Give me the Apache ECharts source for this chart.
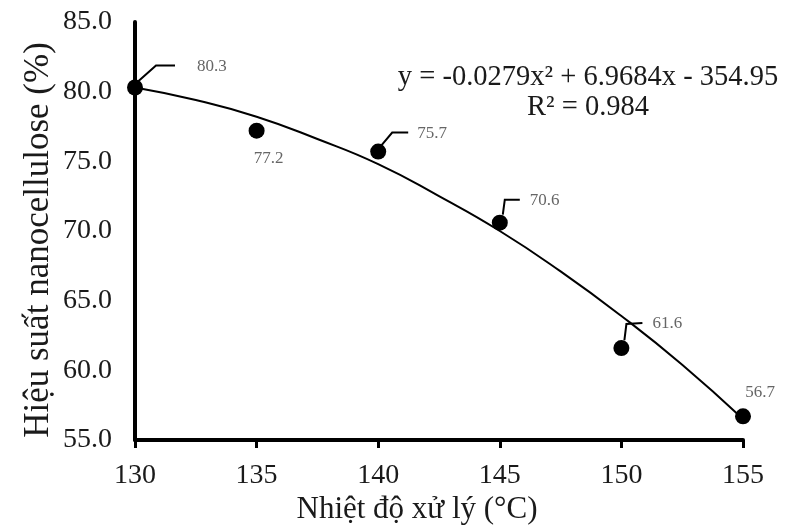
<!DOCTYPE html>
<html>
<head>
<meta charset="utf-8">
<script src="https://cdn.jsdelivr.net/npm/echarts@6/dist/echarts.min.js"></script>
<style>html,body{margin:0;padding:0;background:#fff}#c{width:791px;height:529px}</style>
</head>
<body>
<div id="c"></div>
<script>
// Data
const temperatures = [130, 135, 140, 145, 150, 155];
const yields = [80.3, 77.2, 75.7, 70.6, 61.6, 56.7];
const trendX = [130, 132.5, 135, 137.5, 140, 142.5, 145, 147.5, 150, 152.5, 155];
const trendY = [80.3, 79.4, 78.2, 76.6, 74.8, 72.5, 70.0, 67.1, 63.9, 60.4, 56.5];
const xTicks = [130, 135, 140, 145, 150, 155];
const yTicks = ['55.0', '60.0', '65.0', '70.0', '75.0', '80.0', '85.0'];
const equationText = 'y = -0.0279x² + 6.9684x - 354.95';
const r2Text = 'R² = 0.984';
const xName = 'Nhiệt độ xử lý (°C)';
const yName = 'Hiệu suất nanocellulose (%)';

// Label placement styles (pixel offsets from each point)
const leaderStyles = [
  [[3, -6], [21, -22], [40, -22]],
  null,
  [[3, -6], [14, -19], [30, -19]],
  [[3, -8], [5, -23], [20, -23]],
  [[3, -8], [5, -24], [21, -25]],
  null
];
const textStyles = [
  {pos: [62, -21], align: 'left'},
  {pos: [12, 28], align: 'center'},
  {pos: [39, -18], align: 'left'},
  {pos: [30, -22], align: 'left'},
  {pos: [31, -25], align: 'left'},
  {pos: [17, -24], align: 'center'}
];

const serif = '"Liberation Serif", "Times New Roman", serif';
const chart = echarts.init(document.getElementById('c'), null, {renderer: 'canvas'});

chart.setOption({
  backgroundColor: '#fff',
  animation: false,
  grid: {left: 135, right: 48, top: 22, bottom: 89, containLabel: false, outerBoundsMode: 'none'},
  xAxis: {
    type: 'value', min: xTicks[0], max: xTicks[xTicks.length - 1], interval: 5,
    axisLine: {show: true, lineStyle: {color: '#000', width: 4}},
    axisTick: {show: true, length: 8, lineStyle: {color: '#000', width: 3}},
    axisLabel: {fontFamily: serif, fontSize: 28, color: '#1a1a1a', margin: 22},
    splitLine: {show: false}
  },
  yAxis: {
    type: 'value', min: 55, max: 85, interval: 5,
    axisLine: {show: true, lineStyle: {color: '#000', width: 4}},
    axisTick: {show: false},
    axisLabel: {fontFamily: serif, fontSize: 28, color: '#1a1a1a', margin: 23,
      padding: [5, 0, 0, 0],
      formatter: v => yTicks[Math.round((v - 55) / 5)]},
    splitLine: {show: false}
  },
  series: [
    {
      type: 'line',
      data: trendX.map((x, i) => [x, trendY[i]]),
      smooth: 0.5,
      showSymbol: false,
      lineStyle: {color: '#000', width: 2},
      z: 2
    },
    {
      type: 'scatter',
      data: temperatures.map((t, i) => [t, yields[i]]),
      symbol: 'circle',
      symbolSize: 16,
      itemStyle: {color: '#000', opacity: 1},
      z: 3
    },
    {
      type: 'custom',
      data: temperatures.map((t, i) => [t, yields[i]]),
      z: 4,
      renderItem: (params, api) => {
        const i = params.dataIndex;
        const p = api.coord([api.value(0), api.value(1)]);
        const children = [];
        if (leaderStyles[i]) {
          children.push({
            type: 'polyline',
            shape: {points: leaderStyles[i].map(o => [p[0] + o[0], p[1] + o[1]])},
            style: {stroke: '#000', lineWidth: 2, fill: null}
          });
        }
        const ts = textStyles[i];
        children.push({
          type: 'text',
          x: p[0] + ts.pos[0], y: p[1] + ts.pos[1],
          style: {
            text: yields[i].toFixed(1), fill: '#666',
            font: '17px ' + serif, align: ts.align, verticalAlign: 'middle'
          }
        });
        return {type: 'group', children};
      }
    }
  ],
  graphic: [
    {type: 'text', x: 588, y: 78, style: {text: equationText, font: '28.5px ' + serif, fill: '#1a1a1a', align: 'center', verticalAlign: 'middle'}},
    {type: 'text', x: 588, y: 108, style: {text: r2Text, font: '28.5px ' + serif, fill: '#1a1a1a', align: 'center', verticalAlign: 'middle'}},
    {type: 'text', x: 417, y: 510, style: {text: xName, font: '31px ' + serif, fill: '#1a1a1a', align: 'center', verticalAlign: 'middle'}},
    {type: 'text', x: 39, y: 240, rotation: Math.PI / 2, style: {text: yName, font: '35px ' + serif, fill: '#1a1a1a', align: 'center', verticalAlign: 'middle'}}
  ]
});
</script>
</body>
</html>
